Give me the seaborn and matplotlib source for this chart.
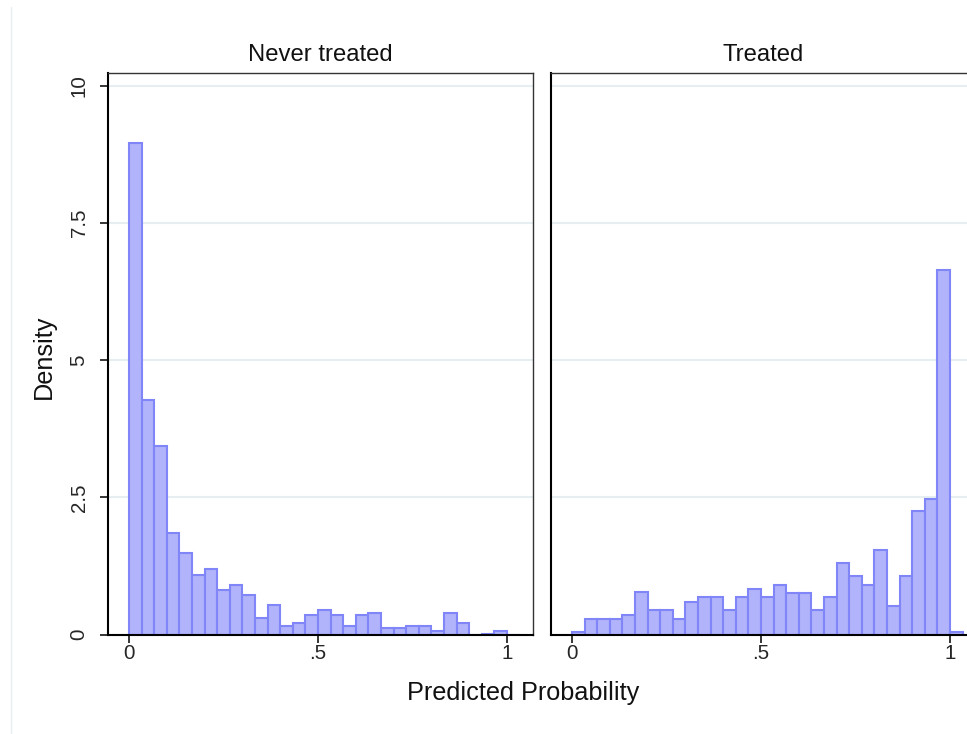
import numpy as np
import pandas as pd
import matplotlib
matplotlib.use("Agg")
import matplotlib.pyplot as plt
from matplotlib.lines import Line2D
import seaborn as sns

# ---- data (bin densities) ----
bin_width = 1 / 30
n_bins = 31
never_density = [8.96, 4.27, 3.44, 1.85, 1.48, 1.09, 1.19, 0.82, 0.91, 0.72,
                 0.31, 0.54, 0.16, 0.21, 0.35, 0.45, 0.35, 0.16, 0.35, 0.40,
                 0.12, 0.12, 0.16, 0.16, 0.07, 0.40, 0.21, 0.0, 0.02, 0.07, 0.0]
treated_density = [0.055, 0.29, 0.29, 0.29, 0.36, 0.77, 0.45, 0.45, 0.29, 0.60,
                   0.68, 0.68, 0.45, 0.68, 0.84, 0.68, 0.91, 0.76, 0.76, 0.45,
                   0.68, 1.31, 1.07, 0.91, 1.55, 0.52, 1.07, 2.25, 2.48, 6.65, 0.055]
panel_titles = ["Never treated", "Treated"]
y_ticks = [0, 2.5, 5, 7.5, 10]
y_ticklabels = ["0", "2.5", "5", "7.5", "10"]
x_ticks = [0, 0.5, 1]
x_ticklabels = ["0", ".5", "1"]

edges = [i * bin_width for i in range(n_bins + 1)]
centers = [(edges[i] + edges[i + 1]) / 2 for i in range(n_bins)]

sns.set_style("white")
plt.rcParams["font.family"] = ["Liberation Sans", "DejaVu Sans"]

W, H = 967, 734
fig = plt.figure(figsize=(W / 100, H / 100), dpi=100)

fill = "#b1b3fb"
edge = "#8085f7"
grid_col = "#e6eef1"

ax_left = fig.add_axes([108 / W, 1 - 634.7 / H, 425 / W, 562 / H])
ax_right = fig.add_axes([551 / W, 1 - 634.7 / H, 425 / W, 562 / H])

for ax, dens, title in zip([ax_left, ax_right], [never_density, treated_density], panel_titles):
    df = pd.DataFrame({"p": centers, "w": dens})
    df = df[df["w"] > 0].reset_index(drop=True)
    sns.histplot(data=df, x="p", weights="w", bins=edges, stat="count",
                 color=fill, edgecolor=edge, linewidth=1.5, alpha=1.0, ax=ax)
    ax.set_xlim(-0.0555, 1.069)
    ax.set_ylim(0, 10.24)
    ax.set_axisbelow(True)
    ax.yaxis.grid(True, color=grid_col, linewidth=1.5)
    ax.xaxis.grid(False)
    ax.set_yticks(y_ticks)
    ax.set_xticks(x_ticks)
    ax.set_xticklabels(x_ticklabels)
    ax.set_xlabel("")
    ax.set_ylabel("")
    ax.set_title(title, fontsize=17.2, pad=8.5, color="#111111")
    for s in ["top", "right"]:
        ax.spines[s].set_color("#333333")
        ax.spines[s].set_linewidth(1.0)
    for s in ["left", "bottom"]:
        ax.spines[s].set_color("black")
        ax.spines[s].set_linewidth(1.5)
    ax.tick_params(axis="x", direction="out", length=5.5, width=1.1, pad=1.5,
                   labelsize=14.8, bottom=True, color="black")

ax_left.set_yticklabels(y_ticklabels, rotation=90, va="center")
ax_left.tick_params(axis="y", direction="out", length=6, width=1.1, pad=8,
                    labelsize=14.8, left=True, color="black")
ax_right.tick_params(axis="y", left=False, labelleft=False)

fig.text(44 / W, 1 - 356.5 / H, "Density", rotation=90, ha="center", va="center",
         fontsize=18.2, color="#111111")
fig.text(522.7 / W, 1 - 700 / H, "Predicted Probability", ha="center", va="baseline",
         fontsize=18.2, color="#111111")

fig.add_artist(Line2D([10.5 / W, 10.5 / W], [0, 1 - 7 / H], color="#e6eef0", linewidth=1.0))

fig.savefig("out.png", dpi=100, facecolor="white")
